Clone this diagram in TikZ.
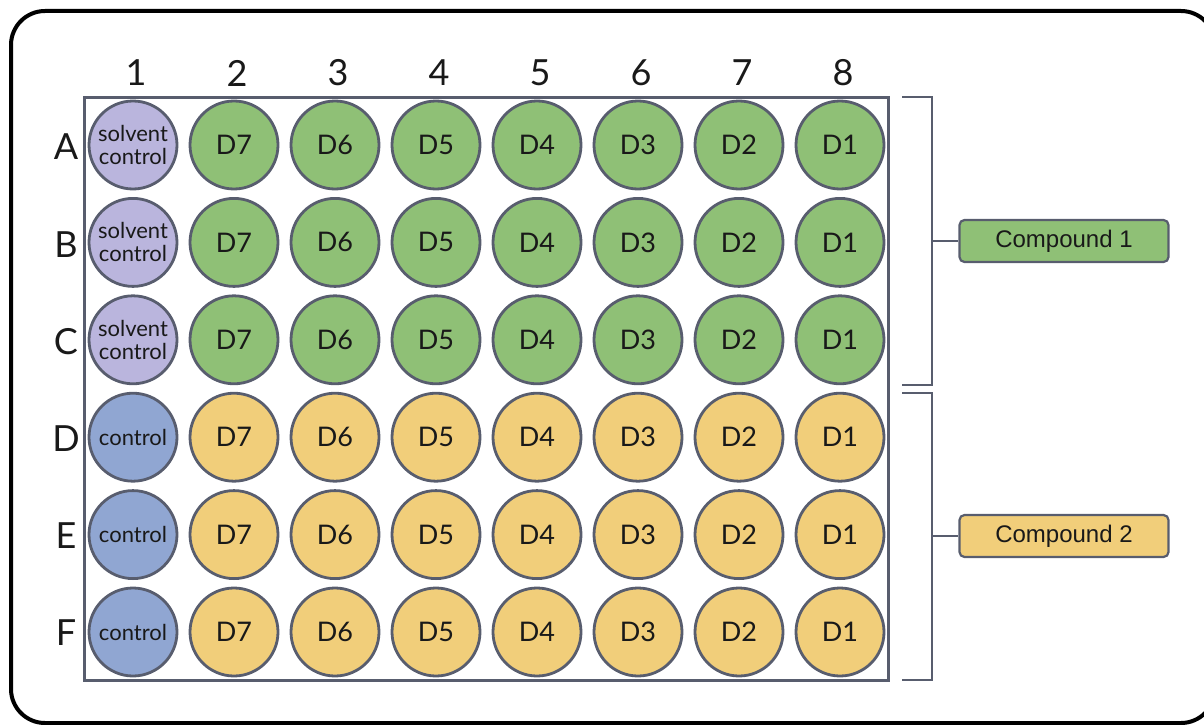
\documentclass[tikz,border=0pt]{standalone}
\usepackage{fontspec}
\setmainfont{Lato}
\newfontfamily\arialf{Liberation Sans}
\definecolor{edge}{RGB}{88,93,110}
\definecolor{purp}{RGB}{186,181,221}
\definecolor{grn}{RGB}{143,192,118}
\definecolor{yel}{RGB}{241,206,122}
\definecolor{blu}{RGB}{144,166,210}
\definecolor{txt}{RGB}{25,25,25}
\begin{document}
\begin{tikzpicture}[x=1pt,y=-1pt,
  well/.style={circle,draw=edge,line width=2.8pt,minimum size=88pt,inner sep=0pt,text=txt,align=center,font=\fontsize{27}{29}\selectfont},
  smalltext/.style={font=\fontsize{22}{23}\selectfont},
  axislabel/.style={text=txt,font=\fontsize{36}{38}\selectfont,inner sep=0pt},
  cmpbox/.style={draw=edge,line width=2.2pt,rounded corners=5pt,minimum width=209pt,minimum height=42pt,inner sep=0pt,text=txt,font=\arialf\fontsize{24}{26}\selectfont},
  bracket/.style={draw=edge,line width=2.6pt},
  plate/.style={draw=edge,line width=3pt}]
\useasboundingbox (0,0) rectangle (1204,725);
% outer frame
\draw[line width=4pt,rounded corners=34pt] (11,11) rectangle (1215,723);
% plate
\draw[plate] (84,97) rectangle (888,680);
% column labels
\foreach \c [count=\i] in {1,...,8}
  \node[axislabel] (col\c) at ({136+101*(\i-1)},73) {\c};
% row labels
\foreach \r [count=\i] in {A,B,C,D,E,F}
  \node[axislabel] (row\r) at (66,{147+97.2*(\i-1)}) {\r};
% wells
\foreach \r [count=\i] in {A,B,C}{
  \node[well,fill=purp,smalltext] (w-\r-1) at (133,{145+97.4*(\i-1)}) {solvent\\control};
  \foreach \d [count=\j from 2] in {7,6,5,4,3,2,1}
    \node[well,fill=grn] (w-\r-\j) at ({133+101*(\j-1)},{145+97.4*(\i-1)}) {D\d};
}
\foreach \r [count=\i from 4] in {D,E,F}{
  \node[well,fill=blu,smalltext] (w-\r-1) at (133,{145+97.4*(\i-1)}) {control};
  \foreach \d [count=\j from 2] in {7,6,5,4,3,2,1}
    \node[well,fill=yel] (w-\r-\j) at ({133+101*(\j-1)},{145+97.4*(\i-1)}) {D\d};
}
% compound boxes
\node[cmpbox,fill=grn] (c1) at (1064,241) {Compound 1};
\node[cmpbox,fill=yel] (c2) at (1064,536) {Compound 2};
% brackets
\coordinate (b1t) at (902,97);
\coordinate (b1b) at (902,385);
\coordinate (b1m) at (932,241);
\coordinate (b2t) at (902,393);
\coordinate (b2b) at (902,680);
\coordinate (b2m) at (932,536);
\draw[bracket] (b1t) -| (b1m) |- (b1b);
\draw[bracket] (b2t) -| (b2m) |- (b2b);
\draw[bracket] (b1m) -- (c1.west);
\draw[bracket] (b2m) -- (c2.west);
\end{tikzpicture}
\end{document}
